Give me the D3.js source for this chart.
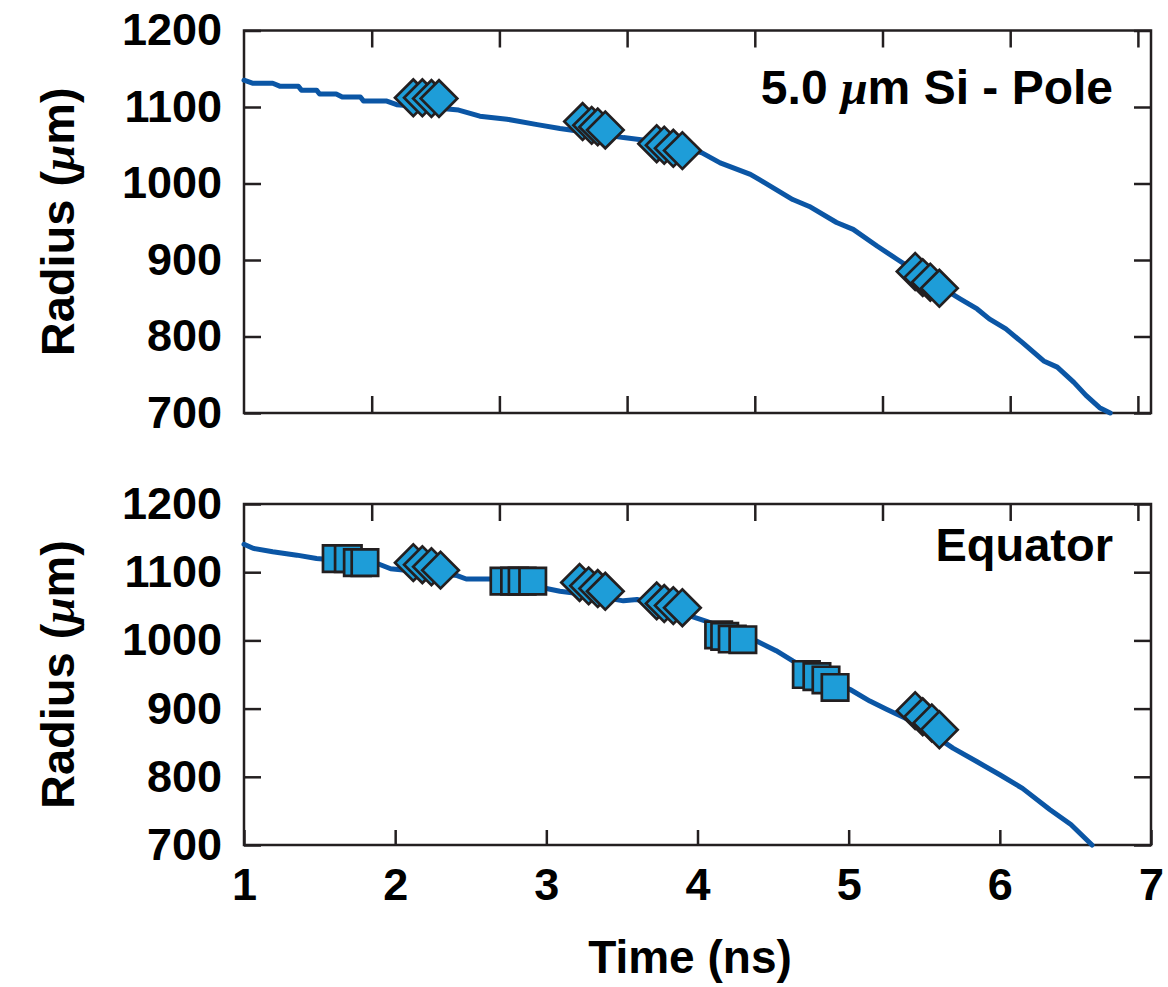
<!DOCTYPE html>
<html><head><meta charset="utf-8">
<script src="https://cdn.jsdelivr.net/npm/d3@7"></script>
<style>
body{margin:0;background:#fff}
text{font-family:"Liberation Sans",Arial,Helvetica,sans-serif;font-weight:bold;fill:#000}
</style></head>
<body><svg id="c" width="1168" height="987"></svg>
<script>
// ---- data ----
const timeTicks = [1, 2, 3, 4, 5, 6, 7];
const frameTicks = [1, 2, 3, 4, 5, 6, 7, 8];
const radiusTicks = [700, 800, 900, 1000, 1100, 1200];

const poleTime = [1.00,1.06,1.19,1.24,1.36,1.38,1.48,1.50,1.61,1.65,1.77,1.79,1.94,2.01,2.20,2.42,2.56,2.74,2.94,3.09,3.30,3.51,3.64,3.85,4.03,4.15,4.35,4.41,4.63,4.74,4.92,5.03,5.19,5.32,5.50,5.74,5.85,5.93,6.04,6.15,6.29,6.38,6.49,6.57,6.66,6.73];
const poleRadius = [1135,1131,1131,1127,1127,1122,1122,1117,1117,1113,1113,1108,1108,1103,1100,1096,1088,1084,1077,1072,1066,1060,1057,1050,1040,1027,1012,1005,979,970,949,940,918,901,878,849,836,823,810,792,768,760,740,723,707,700];

const eqTime = [1.00,1.06,1.19,1.35,1.48,1.70,1.89,1.97,2.20,2.41,2.47,2.63,2.80,3.00,3.09,3.30,3.51,3.60,3.80,3.99,4.06,4.25,4.39,4.52,4.63,4.80,5.01,5.14,5.25,5.45,5.69,5.85,6.00,6.15,6.33,6.47,6.61];
const eqRadius = [1141,1135,1130,1125,1120,1116,1112,1105,1100,1095,1090,1090,1088,1076,1072,1066,1058,1060,1047,1033,1028,1012,999,985,970,949,928,911,899,878,842,822,803,783,752,730,700];

const poleDiamondTime = [2.12,2.18,2.24,2.29, 3.24,3.30,3.34,3.39, 3.73,3.78,3.84,3.90, 5.44,5.49,5.54,5.60];
const poleDiamondRadius = [1112,1112,1111,1111, 1081,1076,1074,1070, 1052,1050,1046,1043, 885,877,871,863];

const eqSquareTime = [1.61,1.69,1.75,1.80, 2.72,2.79,2.84,2.91, 4.14,4.18,4.23,4.30, 4.72,4.79,4.85,4.91];
const eqSquareRadius = [1120,1120,1114,1114, 1087,1087,1087,1087, 1008,1006,1002,1001, 950,947,942,931];
const eqDiamondTime = [2.12,2.18,2.24,2.30, 3.22,3.28,3.34,3.39, 3.73,3.78,3.84,3.90, 5.44,5.49,5.55,5.60];
const eqDiamondRadius = [1114,1111,1108,1103, 1085,1080,1076,1072, 1058,1054,1051,1048, 897,888,879,869];

// ---- layout ----
const svg = d3.select("#c");
const L = 244, R = 1151;
const panels = [
  {top: 30.5, bottom: 413},
  {top: 504, bottom: 845}
];
const x = d3.scaleLinear().domain([1, 7]).range([L, R]);
const xFrame = d3.scaleLinear().domain([1, 1 + (R - L) / 127.7]).range([L, R]);

const lineColor = "#0b56a5", fillColor = "#1e9dd8", edge = "#231f20";
const FS = 45, FT = 47;
const serifMu = '"Liberation Serif","DejaVu Serif",serif';

function drawPanel(p, time, radius, markers, isBottom) {
  const y = d3.scaleLinear().domain([700, 1200]).range([p.bottom, p.top]);
  const g = svg.append("g");
  const h = p.bottom - p.top;
  const inner = frameTicks.filter(d => d > 1 && xFrame(d) < R - 2);

  g.append("g").attr("transform", `translate(${L},0)`)
    .call(d3.axisLeft(y).tickValues(radiusTicks).tickSize(-17).tickPadding(22).tickFormat(d3.format("d")));
  g.append("g").attr("transform", `translate(${R},0)`)
    .call(d3.axisRight(y).tickValues(radiusTicks).tickSize(-17).tickFormat(""));
  g.append("g").attr("transform", `translate(0,${p.top})`)
    .call(d3.axisTop(xFrame).tickValues(inner).tickSize(-17).tickFormat(""));
  if (isBottom) {
    g.append("g").attr("transform", `translate(0,${p.bottom})`)
      .call(d3.axisBottom(x).tickValues(timeTicks).tickSize(-15).tickPadding(23).tickFormat(d3.format("d")));
  } else {
    g.append("g").attr("transform", `translate(0,${p.bottom})`)
      .call(d3.axisBottom(xFrame).tickValues(inner).tickSize(-17).tickFormat(""));
  }
  g.selectAll(".domain").remove();
  g.selectAll(".tick line").attr("stroke", edge).attr("stroke-width", 2.5);
  g.selectAll(".tick text").attr("font-size", FS).attr("fill", "#000")
    .style("font-family", '"Liberation Sans",Arial,sans-serif').style("font-weight", "bold");

  g.append("rect").attr("x", L).attr("y", p.top).attr("width", R - L).attr("height", h)
    .attr("fill", "none").attr("stroke", edge).attr("stroke-width", 2.5);

  const pts = time.map((t, i) => [t, radius[i]]);
  g.append("path").datum(pts)
    .attr("d", d3.line().x(d => x(d[0])).y(d => y(d[1])))
    .attr("fill", "none").attr("stroke", lineColor).attr("stroke-width", 5)
    .attr("stroke-linejoin", "round").attr("stroke-linecap", "round");

  markers.forEach(m => {
    g.append("path")
      .attr("d", d3.symbol().type(d3.symbolSquare).size(m.size)())
      .attr("transform", `translate(${x(m.t)},${y(m.r)}) rotate(${m.rot})`)
      .attr("fill", fillColor).attr("stroke", edge).attr("stroke-width", 2.7)
      .attr("stroke-linejoin", "miter");
  });

  const yt = g.append("text")
    .attr("transform", `translate(74,${(p.top + p.bottom) / 2}) rotate(-90)`)
    .attr("text-anchor", "middle").attr("font-size", FT);
  yt.append("tspan").text("Radius (");
  yt.append("tspan").text("\u03bc").style("font-family", serifMu).style("font-style", "italic");
  yt.append("tspan").text("m)");
  return y;
}

const poleMarkers = poleDiamondTime.map((t, i) => ({t, r: poleDiamondRadius[i], rot: 45, size: 670}));
drawPanel(panels[0], poleTime, poleRadius, poleMarkers, false);

const eqMarkers = eqSquareTime.map((t, i) => ({t, r: eqSquareRadius[i], rot: 0, size: 700}))
  .concat(eqDiamondTime.map((t, i) => ({t, r: eqDiamondRadius[i], rot: 45, size: 670})))
  .sort((a, b) => a.t - b.t);
drawPanel(panels[1], eqTime, eqRadius, eqMarkers, true);

const t1 = svg.append("text").attr("x", 1113).attr("y", 104).attr("text-anchor", "end").attr("font-size", 48);
t1.append("tspan").text("5.0 ");
t1.append("tspan").text("\u03bc").style("font-family", serifMu).style("font-style", "italic");
t1.append("tspan").text("m Si - Pole");

svg.append("text").attr("x", 1113).attr("y", 561).attr("text-anchor", "end").attr("font-size", 47).text("Equator");

svg.append("text").attr("x", 690).attr("y", 973).attr("text-anchor", "middle").attr("font-size", 46).text("Time (ns)");
</script></body></html>
